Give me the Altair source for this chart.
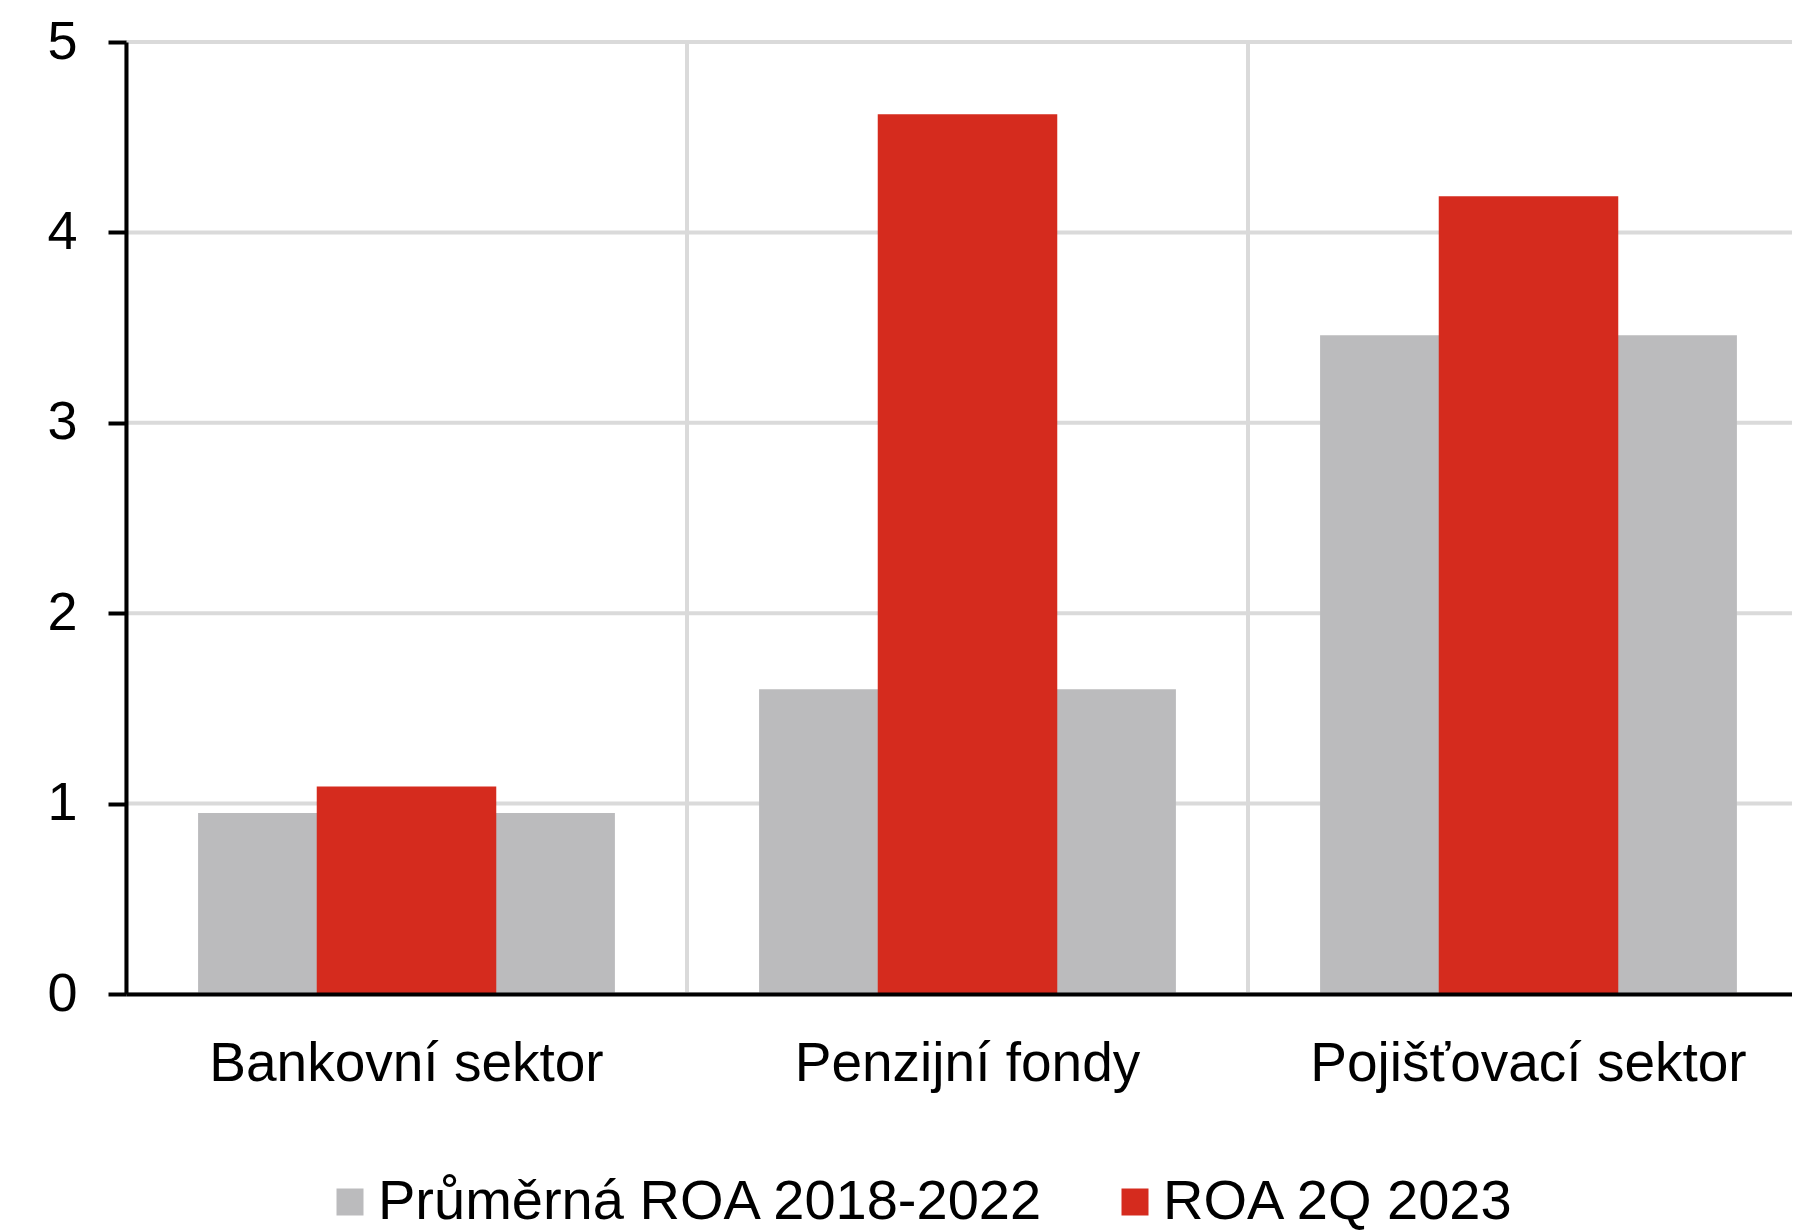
import altair as alt
import pandas as pd

categories = ["Bankovní sektor", "Penzijní fondy", "Pojišťovací sektor"]
avg_roa = [0.95, 1.60, 3.46]
roa_2q2023 = [1.09, 4.62, 4.19]
series_names = ["Průměrná ROA 2018-2022", "ROA 2Q 2023"]
colors = ["#BBBBBD", "#D52B1E"]
y_ticks = [0, 1, 2, 3, 4, 5]

df_avg = pd.DataFrame({"cat": categories, "value": avg_roa, "series": series_names[0]})
df_new = pd.DataFrame({"cat": categories, "value": roa_2q2023, "series": series_names[1]})
df_vgrid = pd.DataFrame({"cat": categories})
df_hgrid = pd.DataFrame({"value": y_ticks})

font = "Liberation Sans"
grid_color = "#DADADA"
x_scale = alt.Scale(domain=categories, range=[0, 1683], paddingInner=0, paddingOuter=0)
y_scale = alt.Scale(domain=[0, 5], nice=False)
color_scale = alt.Scale(domain=series_names, range=colors)

x_axis = alt.Axis(title=None, labelAngle=0, ticks=False, labelPadding=43,
                  labelFontSize=55, labelFont=font, labelColor="black",
                  domainColor="black", domainWidth=4, grid=False, labelLimit=0, zindex=1)
y_axis = alt.Axis(title=None, values=y_ticks, tickSize=18, tickWidth=4, tickColor="black",
                  domainColor="black", domainWidth=4, labelFontSize=54, labelFont=font,
                  labelColor="black", labelPadding=31, grid=False,
                  format="d", zindex=1)
legend = alt.Legend(title=None, orient="none", legendX=196, legendY=1132,
                    direction="horizontal", columns=2, symbolType="square",
                    symbolSize=729, symbolStrokeWidth=0, labelFontSize=56,
                    labelFont=font, labelColor="black", labelOffset=0,
                    columnPadding=62, labelLimit=0)

vrules = alt.Chart(df_vgrid).mark_rule(color=grid_color, strokeWidth=4).encode(
    x=alt.X("cat:N", scale=x_scale, sort=categories, bandPosition=0, axis=x_axis)
)
hrules = alt.Chart(df_hgrid).mark_rule(color=grid_color, strokeWidth=4).encode(
    y=alt.Y("value:Q", scale=y_scale, axis=y_axis)
)

gray = alt.Chart(df_avg).mark_bar(width=alt.RelativeBandSize(0.743)).encode(
    x=alt.X("cat:N", scale=x_scale, sort=categories, axis=x_axis),
    y=alt.Y("value:Q", scale=y_scale, axis=y_axis),
    color=alt.Color("series:N", scale=color_scale, legend=legend),
)

red = alt.Chart(df_new).mark_bar(width=alt.RelativeBandSize(0.32)).encode(
    x=alt.X("cat:N", scale=x_scale, sort=categories, axis=x_axis),
    y=alt.Y("value:Q", scale=y_scale, axis=y_axis),
    color=alt.Color("series:N", scale=color_scale, legend=legend),
)

chart = alt.layer(hrules, vrules, gray, red).properties(
    width=1666, height=952,
    autosize=alt.AutoSizeParams(type="none"),
    padding={"left": 126, "top": 42, "right": 0, "bottom": 237},
    background="white",
).configure_view(stroke=None)

chart.save("out.html", embed_options={"renderer": "svg", "actions": False})
